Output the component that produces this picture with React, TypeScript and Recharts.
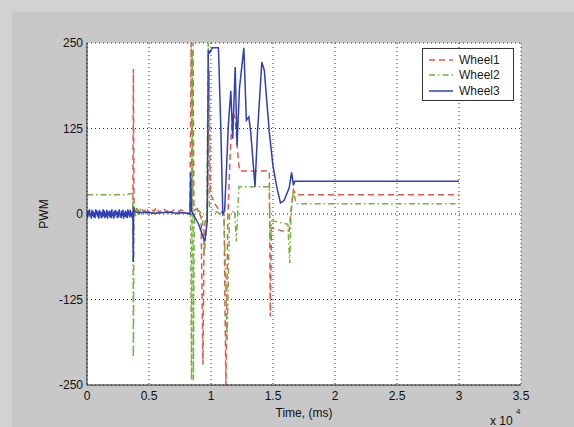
import { LineChart, Line, XAxis, YAxis, CartesianGrid } from "recharts";

const X_TICKS = [0, 5000, 10000, 15000, 20000, 25000, 30000, 35000];
const Y_TICKS = [-250, -125, 0, 125, 250];

// Wheel1 (red dashed)
const WHEEL1_TIME = [
  0, 1000, 2000, 3000, 3700, 3740, 3790, 4000, 4200, 4400, 4600, 4800, 5000, 5200, 5400, 5600, 5800, 6000, 6200,
  6400, 6600, 6800, 7000, 7300, 7600, 8000, 8300, 8400, 8470, 8550, 8620, 8900, 9200, 9350, 9450, 9700, 9850, 9950,
  10300, 10700, 11050, 11200, 11350, 11550, 11750, 11950, 12150, 12300, 13900, 14700, 14780, 14880, 15300, 15700,
  16300, 16500, 16650, 16850, 30000,
];
const WHEEL1_PWM = [
  0, 2, -1, 1, 0, 212, 4, 10, 2, 8, 3, 9, 1, 7, 4, 10, 2, 6, 8, 3, 7, 2, 6, 3, 6, 2, 0, 250, 10, 250, 5, 8, -5, -220,
  -20, 5, 210, 30, 15, 5, 0, -250, -10, 90, 150, 140, 90, 63, 63, 63, -150, -20, -22, -25, -25, 15, 35, 28, 28,
];

// Wheel2 (green dash-dot)
const WHEEL2_TIME = [
  0, 3000, 3700, 3740, 3790, 3900, 4000, 4150, 4300, 4450, 4600, 4900, 5200, 5500, 5800, 6100, 6400, 6700, 7000,
  7300, 7600, 8000, 8350, 8430, 8500, 8580, 8650, 9000, 9300, 9450, 9650, 9780, 9880, 10200, 10800, 11050, 11300,
  11500, 11900, 12050, 12250, 13800, 14700, 14780, 14900, 15500, 16200, 16350, 16450, 16650, 16850, 30000,
];
const WHEEL2_PWM = [
  28, 28, 30, -210, 12, -4, 9, -3, 6, -2, 4, -2, 3, 0, 4, 1, 3, -1, 2, 0, 3, 1, 0, -243, 240, -243, 0, 5, 0, -60,
  -15, 250, 10, 5, 0, 0, -185, 0, 5, -40, 40, 40, 40, -40, -10, -12, -15, -72, 0, 35, 15, 15,
];

// Wheel3 (blue solid) - noisy start, then the swing
const WHEEL3_TIME = [
  0, 50, 100, 150, 200, 250, 300, 350, 400, 450, 500, 550, 600, 650, 700, 750, 800, 850, 900, 950, 1000, 1050, 1100,
  1150, 1200, 1250, 1300, 1350, 1400, 1450, 1500, 1550, 1600, 1650, 1700, 1750, 1800, 1850, 1900, 1950, 2000, 2050,
  2100, 2150, 2200, 2250, 2300, 2350, 2400, 2450, 2500, 2550, 2600, 2650, 2700, 2750, 2800, 2850, 2900, 2950, 3000,
  3050, 3100, 3150, 3200, 3250, 3300, 3350, 3400, 3450, 3500, 3550, 3600, 3650, 3700, 3730, 3760, 3800, 4200, 4800,
  5400, 6000, 6600, 7200, 7800, 8300, 8360, 8420, 8700, 9000, 9500, 9700, 9780, 9900, 10100, 10600, 10800, 10950,
  11100, 11400, 11600, 11750, 11950, 12100, 12300, 12650, 12850, 13050, 13200, 13550, 13750, 14100, 14300, 14700,
  15000, 15300, 15600, 15900, 16300, 16500, 16650, 16750, 30000,
];
const WHEEL3_PWM = [
  3, -6, 5, -2, 7, -4, 1, -7, 6, -3, 4, -5, 2, -6, 7, -1, 5, -4, 3, -7, 6, -2, 4, -6, 1, -5, 7, -3, 5, -6, 2, -4, 6,
  -7, 3, -2, 5, -5, 4, -6, 7, -3, 2, -7, 5, -4, 6, -1, 3, -6, 4, -5, 7, -2, 1, -6, 5, -3, 6, -7, 2, -4, 5, -5, 3, -6,
  7, -2, 4, -5, 6, -3, 2, -6, 4, -70, 10, 4, 2, 3, 1, 2, 3, 1, 2, 0, 60, 5, -5, -15, -40, -10, 240, 236, 243, 243, 120,
  0, 5, 130, 180, 110, 215, 100, 185, 243, 137, 142, 120, 40, 120, 222, 210, 120, 70, 40, 16, 20, 38, 61, 42, 48, 48,
];

const SERIES = [
  { name: "Wheel1", time: WHEEL1_TIME, pwm: WHEEL1_PWM, color: "#e2584a", dash: "6 4" },
  { name: "Wheel2", time: WHEEL2_TIME, pwm: WHEEL2_PWM, color: "#72b23e", dash: "6 3 1.5 3" },
  { name: "Wheel3", time: WHEEL3_TIME, pwm: WHEEL3_PWM, color: "#2f3fb8", dash: undefined },
];

const FONT = '"Liberation Sans", Arial, sans-serif';
const TICK_STYLE = { fill: "#111", fontSize: 12, fontFamily: FONT };

const YLabel = ({ viewBox }: any) => {
  const cx = viewBox.x + 17;
  const cy = viewBox.y + viewBox.height / 2;
  return (
    <text x={cx} y={cy} transform={`rotate(-90 ${cx} ${cy})`} textAnchor="middle" dominantBaseline="central" fontSize={12} fontFamily={FONT} fill="#111">
      PWM
    </text>
  );
};

const XLabel = ({ viewBox }: any) => {
  const cx = viewBox.x + viewBox.width / 2;
  return (
    <g fontFamily={FONT} fill="#111">
      <text x={cx} y={viewBox.y + 28} textAnchor="middle" dominantBaseline="central" fontSize={12}>
        Time, (ms)
      </text>
      <text x={490} y={viewBox.y + 36} dominantBaseline="central" fontSize={12}>
        x 10
      </text>
      <text x={516} y={viewBox.y + 26} dominantBaseline="central" fontSize={8}>
        4
      </text>
    </g>
  );
};

export default function App() {
  return (
    <div style={{ position: "absolute", left: 0, top: 0, width: 574, height: 427, background: "#d2d2d2" }}>
      <div style={{ position: "absolute", left: 12, top: 12, right: 0, bottom: 0, background: "#c8c8c8" }} />
      <div style={{ position: "absolute", left: 0, top: 0 }}>
        <LineChart width={574} height={427} margin={{ top: 43, right: 53, bottom: 0, left: 27 }}>
          <CartesianGrid fill="#fff" stroke="#333" strokeDasharray="1 3" />
          <XAxis
            type="number"
            dataKey="t"
            domain={[0, 35000]}
            ticks={X_TICKS}
            tickFormatter={(v: number) => String(v / 10000)}
            height={42}
            tickSize={0}
            tickMargin={6}
            tick={TICK_STYLE}
            axisLine={{ stroke: "#222" }}
            label={<XLabel />}
            allowDataOverflow
          />
          <XAxis xAxisId="top" orientation="top" type="number" domain={[0, 35000]} height={0} tick={false} tickLine={false} axisLine={{ stroke: "#222" }} />
          <YAxis
            type="number"
            domain={[-250, 250]}
            ticks={Y_TICKS}
            width={60}
            tickSize={0}
            tickMargin={4}
            tick={TICK_STYLE}
            axisLine={{ stroke: "#222" }}
            label={<YLabel />}
            allowDataOverflow
          />
          <YAxis yAxisId="right" orientation="right" type="number" domain={[-250, 250]} width={0} tick={false} tickLine={false} axisLine={{ stroke: "#222" }} />
          {SERIES.map((s) => (
            <Line
              key={s.name}
              data={s.time.map((t, i) => ({ t, v: s.pwm[i] }))}
              dataKey="v"
              name={s.name}
              type="linear"
              stroke={s.color}
              strokeWidth={1.5}
              strokeDasharray={s.dash}
              dot={false}
              isAnimationActive={false}
            />
          ))}
        </LineChart>
      </div>
      <div
        style={{
          position: "absolute",
          left: 422,
          top: 48,
          width: 92,
          height: 53,
          border: "1px solid #333",
          background: "#fff",
          fontFamily: FONT,
          fontSize: 12,
          color: "#222",
          paddingTop: 3,
          boxSizing: "border-box",
        }}
      >
        {SERIES.map((s) => (
          <div key={s.name} style={{ display: "flex", alignItems: "center", height: 15.5 }}>
            <svg width={36} height={10}>
              <line x1={6} x2={30} y1={5} y2={5} stroke={s.color} strokeWidth={1.5} strokeDasharray={s.dash} />
            </svg>
            <span>{s.name}</span>
          </div>
        ))}
      </div>
    </div>
  );
}
